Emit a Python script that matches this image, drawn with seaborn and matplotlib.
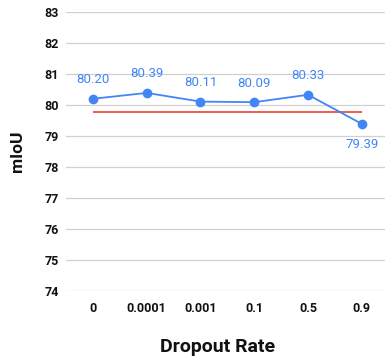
import matplotlib
matplotlib.use("Agg")
import matplotlib.pyplot as plt
import seaborn as sns
import pandas as pd

categories = ["0", "0.0001", "0.001", "0.1", "0.5", "0.9"]
miou = [80.20, 80.39, 80.11, 80.09, 80.33, 79.39]
baseline = 79.77
y_ticks = [74, 75, 76, 77, 78, 79, 80, 81, 82, 83]

sns.set_theme(style="white")
plt.rcParams["font.family"] = ["Roboto", "DejaVu Sans"]

blue = "#4285F4"
red = "#EA4335"

df = pd.DataFrame({"pos": list(range(len(categories))), "miou": miou, "cat": categories})

fig = plt.figure(figsize=(3.85, 3.6), dpi=100)
ax = fig.add_axes([66 / 385, 1 - 291 / 360, 1 - 66 / 385, (291 - 12) / 360])

ax.hlines(baseline, df["pos"].iloc[0], df["pos"].iloc[-1], color=red, linewidth=1.2, zorder=2)
sns.lineplot(data=df, x="pos", y="miou", ax=ax, color=blue, marker="o",
             markersize=7, markeredgewidth=0, linewidth=1.3, zorder=3)

for i, v in enumerate(miou):
    if i == len(miou) - 1:
        ax.annotate(f"{v:.2f}", (i, v), xytext=(0, -10), textcoords="offset points",
                    ha="center", va="top", color=blue, fontsize=9.5)
    else:
        ax.annotate(f"{v:.2f}", (i, v), xytext=(0, 9), textcoords="offset points",
                    ha="center", va="bottom", color=blue, fontsize=9.5)

ax.set_ylim(74, 83)
ax.set_yticks(y_ticks)
ax.set_yticklabels([str(t) for t in y_ticks], fontsize=9, fontweight="bold", color="#111111")
ax.set_xlim(-0.5, 5.43)
ax.set_xticks(df["pos"])
ax.set_xticklabels(categories, fontsize=9, fontweight="bold", color="#111111")
ax.tick_params(axis="y", length=0, pad=5)
ax.tick_params(axis="x", length=0, pad=8)
ax.yaxis.grid(True, color="#d0d0d0", linewidth=0.9)
ax.set_axisbelow(True)
for s in ax.spines.values():
    s.set_visible(False)

ax.set_xlabel("Dropout Rate", fontsize=14, fontweight="bold", color="#111111")
ax.xaxis.set_label_coords((218 - 66) / 319, -(347 - 291) / 279)
ax.xaxis.label.set_va("center")
ax.set_ylabel("mIoU", fontsize=12.5, fontweight="bold", labelpad=14, color="#111111")

fig.savefig("out.png", dpi=100)
